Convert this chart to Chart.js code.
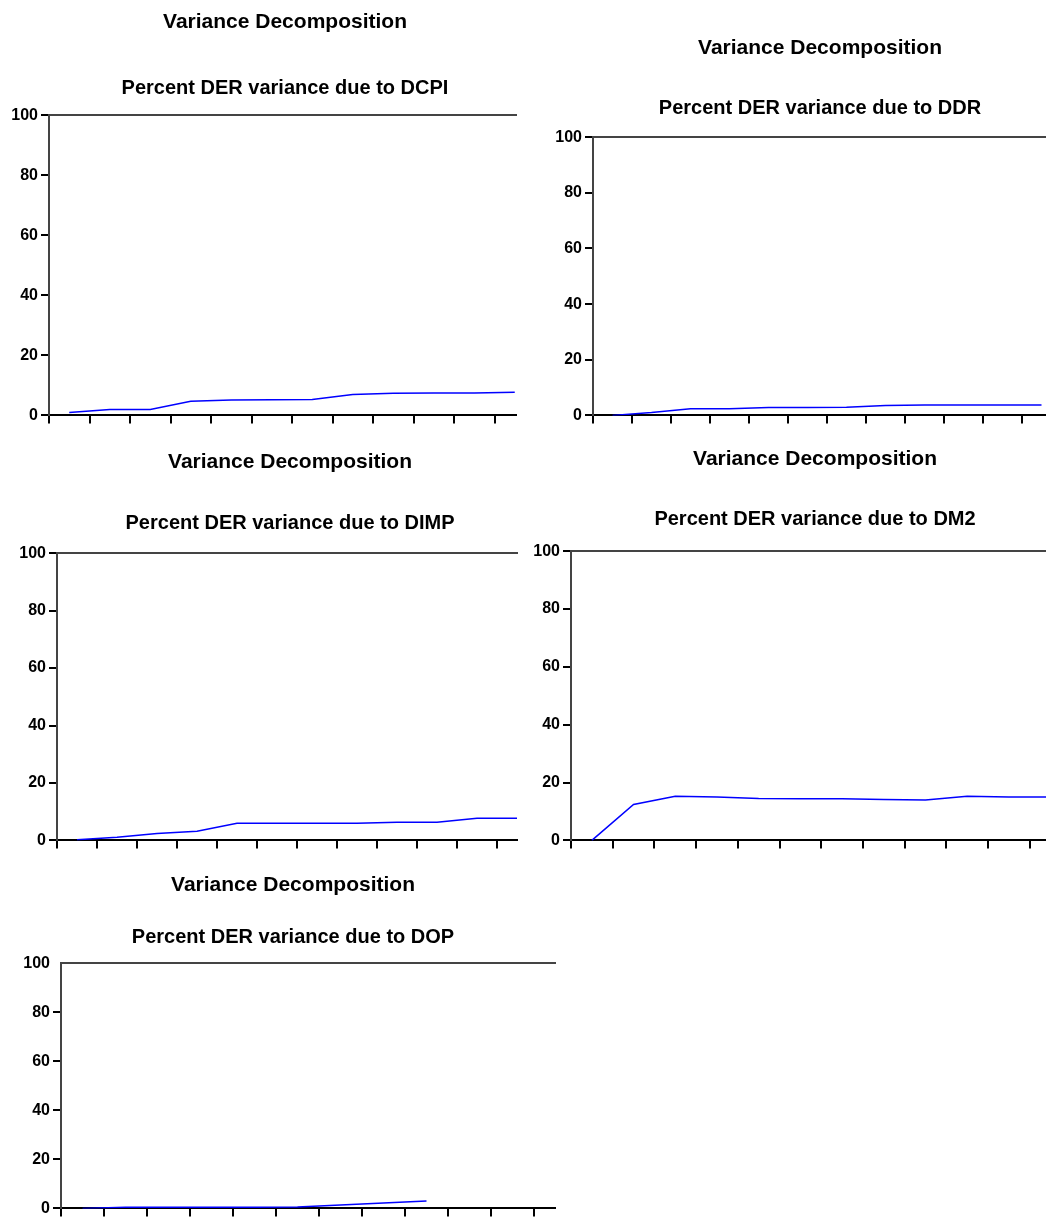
<!DOCTYPE html>
<html>
<head>
<meta charset="utf-8">
<title>Variance Decomposition</title>
<script src="https://cdn.jsdelivr.net/npm/chart.js@4.4.1/dist/chart.umd.min.js"></script>
<style>
  html, body { margin: 0; padding: 0; background: #fff; overflow: hidden; }
  body { width: 1046px; height: 1218px; position: relative; }
  .panel { position: absolute; overflow: hidden; }
  .panel canvas { display: block; }
</style>
</head>
<body>
<div class="panel" id="box1"><canvas id="chart1"></canvas></div>
<div class="panel" id="box2"><canvas id="chart2"></canvas></div>
<div class="panel" id="box3"><canvas id="chart3"></canvas></div>
<div class="panel" id="box4"><canvas id="chart4"></canvas></div>
<div class="panel" id="box5"><canvas id="chart5"></canvas></div>
<script>
// Periods on the x axis (one observation per period)
const periods = [1, 2, 3, 4, 5, 6, 7, 8, 9, 10, 11, 12];
const yTicks = [0, 20, 40, 60, 80, 100];

const mainTitle = 'Variance Decomposition';
const subTitles = [
  'Percent DER variance due to DCPI',
  'Percent DER variance due to DDR',
  'Percent DER variance due to DIMP',
  'Percent DER variance due to DM2',
  'Percent DER variance due to DOP'
];

// Values (percent)
const dcpiValues = [1.0, 2.0, 2.0, 4.7, 5.1, 5.2, 5.3, 7.0, 7.4, 7.5, 7.5, 7.7];
const ddrValues  = [0.0, 1.0, 2.4, 2.4, 2.8, 2.8, 2.9, 3.6, 3.7, 3.7, 3.7, 3.7];
const dimpValues = [0.2, 1.1, 2.4, 3.2, 6.0, 6.0, 6.0, 6.0, 6.3, 6.3, 7.7, 7.7];
const dm2Values  = [0.0, 12.4, 15.3, 15.0, 14.5, 14.4, 14.4, 14.1, 14.0, 15.3, 15.0, 15.0];
const dopValues  = [0.0, 0.5, 0.5, 0.5, 0.5, 0.6, 1.4, 2.2, 3.0];

// Page placement of each graph (the originals are cropped on the right)
const panels = [
  { n: 1, values: dcpiValues, left: 0,   top: 8,   width: 570, height: 420, clip: 517,  yWidth: 49, unit: 40.5, pad: [2, 41, 15] },
  { n: 2, values: ddrValues,  left: 553, top: 33,  width: 534, height: 395, clip: 1046, yWidth: 40, unit: 39,   pad: [3, 35, 17] },
  { n: 3, values: dimpValues, left: 17,  top: 448, width: 546, height: 405, clip: 518,  yWidth: 40, unit: 40,   pad: [2, 36, 18] },
  { n: 4, values: dm2Values,  left: 531, top: 445, width: 568, height: 408, clip: 1046, yWidth: 40, unit: 41.7, pad: [2, 35, 20] },
  { n: 5, values: dopValues,  left: 21,  top: 871, width: 544, height: 350, clip: 556,  yWidth: 40, unit: 43,   pad: [2, 27, 14] }
];

Chart.defaults.font.family = "'Liberation Sans', Arial, sans-serif";
Chart.defaults.color = '#000';

function drawPanel(p) {
  const box = document.getElementById('box' + p.n);
  box.style.left = p.left + 'px';
  box.style.top = p.top + 'px';
  box.style.width = (p.clip - p.left) + 'px';
  box.style.height = p.height + 'px';

  const canvas = document.getElementById('chart' + p.n);
  canvas.width = p.width;
  canvas.height = p.height;
  canvas.style.width = p.width + 'px';
  canvas.style.height = p.height + 'px';

  const xMax = (p.width - p.yWidth) / p.unit;
  // each observation sits in the middle of its period
  const points = p.values.map((v, i) => ({ x: periods[i] - 0.5, y: v }));

  new Chart(canvas.getContext('2d'), {
    type: 'line',
    data: {
      datasets: [{
        data: points,
        borderColor: '#0000ff',
        borderWidth: 1.5,
        pointRadius: 0,
        tension: 0,
        fill: false
      }]
    },
    options: {
      responsive: false,
      animation: false,
      devicePixelRatio: 1,
      layout: { padding: 0, autoPadding: false },
      plugins: {
        legend: { display: false },
        tooltip: { enabled: false },
        title: {
          display: true,
          text: mainTitle,
          font: { size: 21, weight: 'bold' },
          padding: { top: p.pad[0], bottom: 0 }
        },
        subtitle: {
          display: true,
          text: subTitles[p.n - 1],
          font: { size: 20, weight: 'bold' },
          color: '#000',
          padding: { top: p.pad[1], bottom: p.pad[2] }
        }
      },
      scales: {
        x: {
          type: 'linear',
          position: 'bottom',
          min: 0,
          max: xMax,
          ticks: { display: false, stepSize: 1, includeBounds: false },
          grid: { drawOnChartArea: false, drawTicks: true, tickLength: 8, lineWidth: 2, color: '#000' },
          border: { display: true, color: '#000', width: 2 },
          afterFit: (scale) => { scale.height = 10; }
        },
        xTop: {
          type: 'linear',
          position: 'top',
          min: 0,
          max: xMax,
          ticks: { display: false },
          grid: { display: false },
          border: { display: true, color: '#444', width: 2 },
          afterFit: (scale) => { scale.height = 0; }
        },
        y: {
          min: yTicks[0],
          max: yTicks[yTicks.length - 1],
          ticks: {
            stepSize: yTicks[1] - yTicks[0],
            padding: 3,
            font: { size: 16, weight: 'bold' },
            color: '#000'
          },
          grid: {
            drawOnChartArea: false,
            drawTicks: true,
            tickLength: 8,
            lineWidth: 2,
            color: '#000',
            // the last graph has no tick mark next to 100
            tickColor: (ctx) => (p.n === 5 && ctx.tick && ctx.tick.value === 100) ? 'rgba(0,0,0,0)' : '#000'
          },
          border: { display: true, color: '#444', width: 2 },
          afterFit: (scale) => { scale.width = p.yWidth; }
        }
      }
    }
  });
}

panels.forEach(drawPanel);
</script>
</body>
</html>
